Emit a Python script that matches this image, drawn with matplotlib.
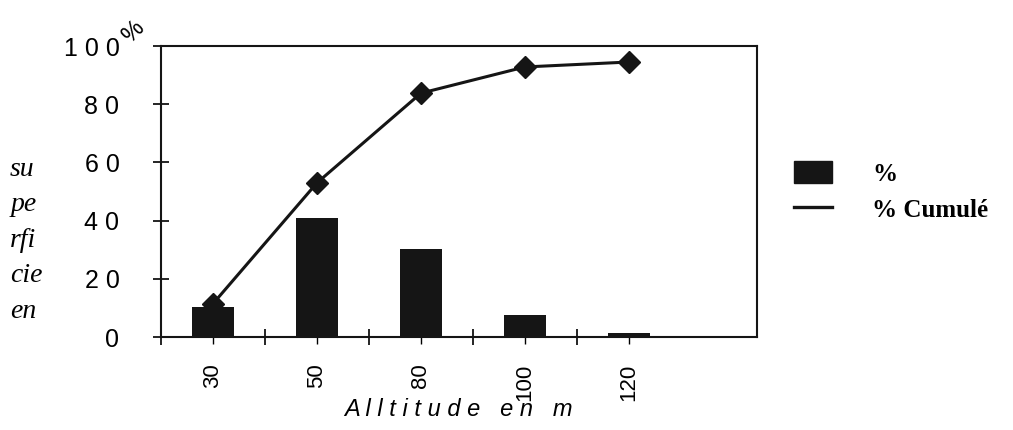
import numpy as np
import matplotlib.pyplot as plt
from matplotlib.patches import Patch
from matplotlib.lines import Line2D

# valeurs
altitudes = ["30", "50", "80", "100", "120"]
pct = [10.5, 41, 30.3, 7.6, 1.4]
pct_cumule = [11.5, 53, 83.8, 92.8, 94.5]

fig = plt.figure(figsize=(10.13, 4.30), dpi=100)
ax = fig.add_axes([0.159, 0.216, 0.588, 0.677])

x = np.arange(len(altitudes))
ax.bar(x, pct, width=0.41, color="#151515", zorder=2)
ax.plot(x, pct_cumule, color="#151515", lw=2.2, marker="D", markersize=11,
        markerfacecolor="#151515", markeredgecolor="#151515", zorder=3)

ax.set_xlim(-0.5, 5.23)
ax.set_ylim(0, 100)
ax.set_yticks(np.arange(0, 101, 20))
ax.set_yticklabels([" ".join(str(v)) for v in range(0, 101, 20)],
                   fontsize=18, family="Liberation Sans")
ax.tick_params(axis="y", direction="inout", length=12, width=1.2, pad=24)

# graduations majeures entre les catégories, mineures au centre
ax.set_xticks(np.arange(0, 5) - 0.5)
ax.set_xticklabels([])
ax.set_xticks(x, minor=True)
ax.set_xticklabels(altitudes, minor=True, rotation=90, fontsize=16,
                   family="Liberation Sans")
ax.tick_params(axis="x", which="major", direction="inout", length=12, width=1.2)
ax.tick_params(axis="x", which="minor", direction="out", length=5, width=1, pad=14)

for s in ax.spines.values():
    s.set_linewidth(1.5)
    s.set_color("#151515")

ax.set_xlabel("A l l t i t u d e   e n   m", fontsize=17, style="italic",
              family="Liberation Sans", labelpad=-2)

fig.text(0.01, 0.635, "su\npe\nrfi\ncie\nen", fontsize=20, style="italic",
         family="Liberation Serif", va="top", ha="left", linespacing=1.55)
fig.text(0.132, 0.925, "%", fontsize=17, rotation=45, family="Liberation Sans",
         ha="center", va="center")

handles = [Patch(facecolor="#151515", edgecolor="#151515"),
           Line2D([], [], color="#151515", lw=2.4)]
fig.legend(handles, ["%", "% Cumulé"], loc="center left",
           bbox_to_anchor=(0.762, 0.555), frameon=False,
           prop={"family": "Liberation Serif", "weight": "bold", "size": 18},
           handlelength=1.5, handleheight=1.0, handletextpad=1.6, labelspacing=0.45)

fig.savefig("out.png", dpi=100)
